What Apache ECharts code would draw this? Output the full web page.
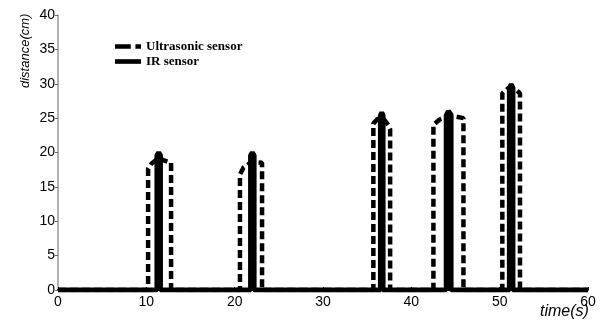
<!DOCTYPE html>
<html>
<head>
<meta charset="utf-8">
<script src="https://cdn.jsdelivr.net/npm/echarts@6/dist/echarts.min.js"></script>
<style>
  html, body { margin: 0; padding: 0; background: #fff; }
  #chart { width: 607px; height: 321px; }
</style>
</head>
<body>
<div id="chart"></div>
<script>
// Distance readings over time from the two sensors, [time (s), distance (cm)]
const ultrasonicData = [
  [0, 0], [10.2, 0], [10.2, 17.6], [10.6, 18.4], [11.4, 19.2], [12.1, 18.8], [12.8, 18.5], [12.8, 0],
  [20.6, 0], [20.6, 16.8], [21.0, 17.8], [21.9, 18.6], [23.1, 18.5], [23.1, 0],
  [35.7, 0], [35.7, 24.2], [36.2, 24.9], [36.9, 24.8], [37.4, 24.0], [37.6, 23.4], [37.6, 0],
  [42.5, 0], [42.5, 24.0], [43.2, 24.8], [44.4, 25.4], [45.9, 25.0], [45.9, 0],
  [50.3, 0], [50.3, 28.6], [51.0, 29.4], [51.8, 29.2], [52.3, 28.6], [52.3, 0],
  [60, 0]
];

const irData = [
  [0, 0], [11.2, 0], [11.2, 19.6], [11.4, 20.0], [11.6, 19.6], [11.6, 0],
  [21.8, 0], [21.8, 19.6], [22.0, 20.0], [22.2, 19.6], [22.2, 0],
  [36.5, 0], [36.5, 25.4], [36.65, 25.8], [36.8, 25.4], [36.8, 0],
  [43.95, 0], [43.95, 25.4], [44.2, 26.0], [44.5, 25.5], [44.5, 0],
  [51.1, 0], [51.1, 29.4], [51.3, 29.9], [51.5, 29.4], [51.5, 0],
  [60, 0]
];

const xTicks = [0, 10, 20, 30, 40, 50, 60];
const yTicks = [0, 5, 10, 15, 20, 25, 30, 35, 40];
const seriesNames = ['Ultrasonic sensor', 'IR sensor'];

// Legend swatches: long + short dash for the ultrasonic trace, solid bar for IR
const legendIcons = [
  'path://M0,0 H17 V5 H0 Z M22,0 H28 V5 H22 Z',
  'path://M0,0 H28 V5 H0 Z'
];

const chart = echarts.init(document.getElementById('chart'), null, { renderer: 'canvas' });

chart.setOption({
  animation: false,
  backgroundColor: '#ffffff',
  grid: { left: 58, right: 19, top: 15, bottom: 31, containLabel: false },
  legend: {
    orient: 'vertical',
    left: 110,
    top: 35,
    itemWidth: 26,
    itemHeight: 5,
    itemGap: 2,
    data: seriesNames.map((n, i) => ({ name: n, icon: legendIcons[i] })),
    textStyle: {
      fontFamily: '"Liberation Serif", "DejaVu Serif", serif',
      fontWeight: 'bold',
      fontSize: 13,
      color: '#000'
    }
  },
  xAxis: {
    type: 'value',
    min: xTicks[0],
    max: xTicks[xTicks.length - 1],
    interval: 10,
    splitLine: { show: false },
    axisLine: { onZero: false, lineStyle: { color: '#000', width: 2 } },
    axisTick: { inside: true, length: 3, lineStyle: { color: '#000' } },
    axisLabel: {
      margin: 5,
      color: '#000',
      fontFamily: '"Liberation Sans", Arial, sans-serif',
      fontSize: 14
    }
  },
  yAxis: {
    type: 'value',
    min: yTicks[0],
    max: yTicks[yTicks.length - 1],
    interval: 5,
    splitLine: { show: false },
    axisLine: { lineStyle: { color: '#999', width: 1.5 } },
    axisTick: { length: 3, lineStyle: { color: '#666' } },
    axisLabel: {
      margin: 3,
      color: '#000',
      fontFamily: '"Liberation Sans", Arial, sans-serif',
      fontSize: 14
    }
  },
  graphic: [
    {
      type: 'text',
      x: 19,
      y: 88,
      rotation: Math.PI / 2,
      style: {
        text: 'distance(cm)',
        fill: '#000',
        font: 'italic 13px "Liberation Sans", Arial, sans-serif'
      }
    },
    {
      type: 'text',
      x: 540,
      y: 304,
      style: {
        text: 'time(s)',
        fill: '#000',
        font: 'italic 16px "Liberation Sans", Arial, sans-serif'
      }
    }
  ],
  series: [
    {
      name: seriesNames[0],
      type: 'line',
      data: ultrasonicData,
      symbol: 'none',
      z: 2,
      lineStyle: { color: '#000', width: 4.5, type: [8, 4] },
      itemStyle: { color: '#000' }
    },
    {
      name: seriesNames[1],
      type: 'line',
      data: irData,
      symbol: 'none',
      z: 3,
      lineStyle: { color: '#000', width: 5, type: 'solid' },
      itemStyle: { color: '#000' }
    }
  ]
});
</script>
</body>
</html>
